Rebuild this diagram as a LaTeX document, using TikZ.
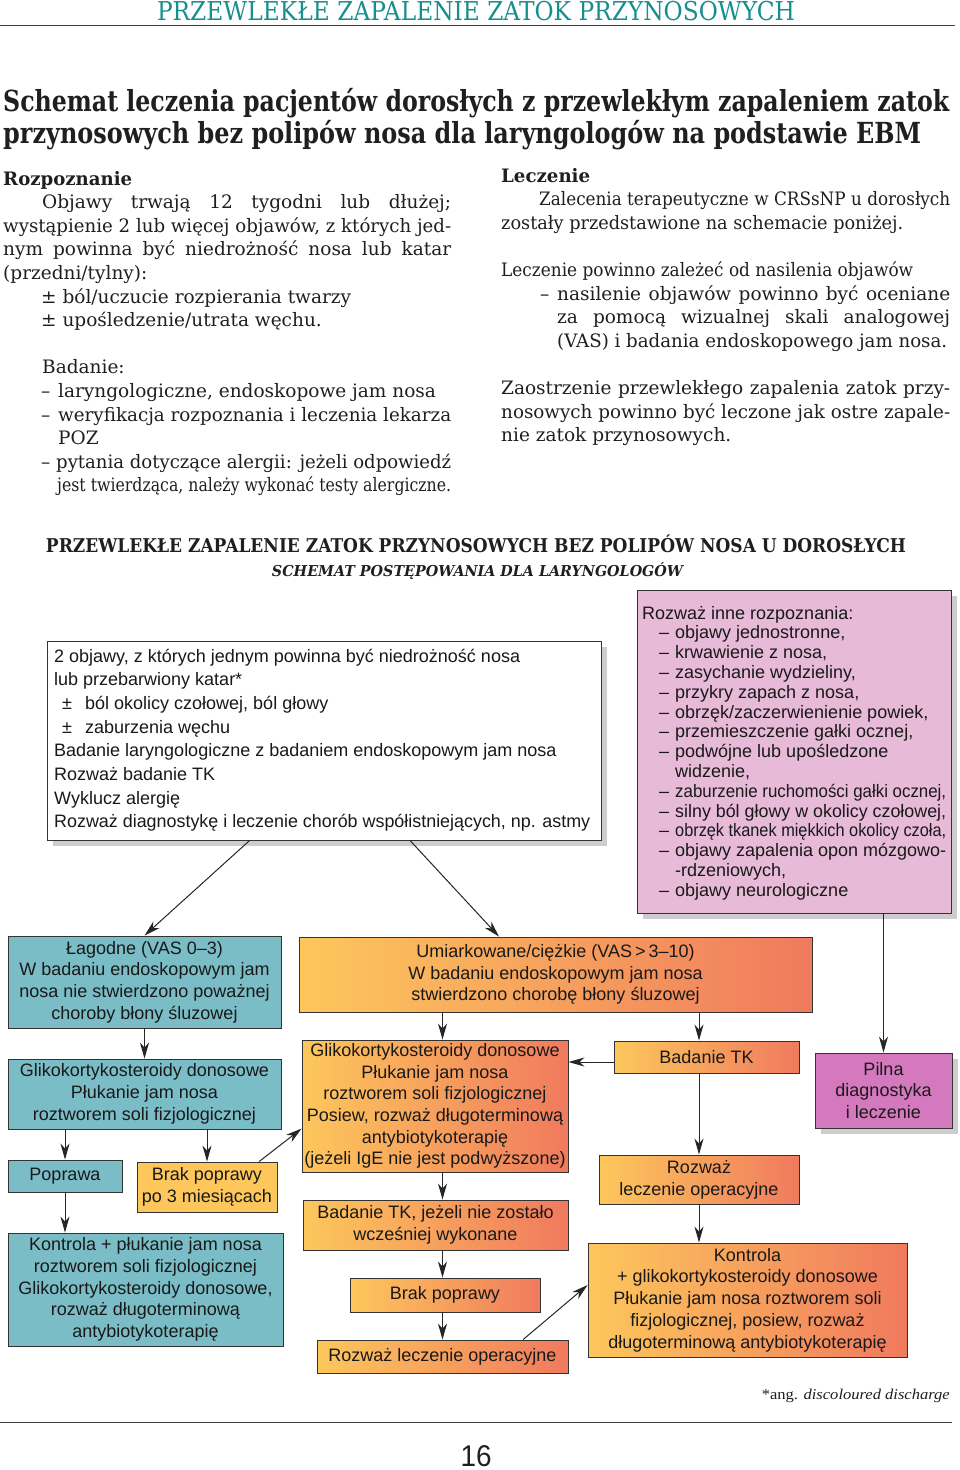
\documentclass[tikz,border=0pt]{standalone}
\usepackage{fontspec}
\usepackage{graphicx}
\setmainfont{DejaVu Serif}
\newfontfamily\chartfont{Liberation Sans}
\newfontfamily\notefont{Liberation Serif}
\usetikzlibrary{arrows.meta,calc,shadows}

\definecolor{headteal}{RGB}{22,143,143}
\definecolor{tealfill}{RGB}{122,189,199}
\definecolor{warmleft}{RGB}{253,199,92}
\definecolor{warmright}{RGB}{240,122,94}
\definecolor{pinkfill}{RGB}{231,186,216}
\definecolor{magentafill}{RGB}{213,121,190}
\definecolor{shadowgray}{RGB}{205,205,205}

% squeeze to a width, keep the height
\newcommand\sqz[2]{\resizebox{#1}{\height}{#2}}
% justified line of a given width
\newcommand\jline[2]{\sbox0{#2}\ifdim\wd0>#1\relax\resizebox{#1}{\height}{#2}\else\makebox[#1][s]{#2}\fi}
% natural line, squeezed only when too long
\newcommand\fitl[2]{\sbox0{#2}\ifdim\wd0>#1\relax\resizebox{#1}{\height}{#2}\else\usebox0\fi}
% stacked lines, baseline of the first one
\newcommand\lines[1]{\vtop{\let\\\cr\halign{##\hfil\cr#1\crcr}}}
\newcommand\dashitem[1]{\hspace*{17pt}\makebox[16pt][l]{–}\fitl{271pt}{#1}}

\tikzset{
  box/.style={draw=black!80, line width=0.9pt, inner sep=0pt, align=center,
    font=\chartfont\fontsize{18}{21.7}\selectfont, text=black!90},
  tealbox/.style={box, fill=tealfill},
  warmbox/.style={box, left color=warmleft, right color=warmright},
  ylwbox/.style={box, fill=warmleft},
  shadowed/.style={drop shadow={shadow xshift=6pt, shadow yshift=-6pt, fill=shadowgray, opacity=1}},
  arrow/.style={-{Stealth[length=16pt,width=9pt,inset=5pt]}, line width=1pt, draw=black!85},
  bodytext/.style={inner sep=0pt, font=\fontsize{18.5}{23.6}\selectfont, text=black!88},
  charttext/.style={inner sep=0pt, text=black!90},
}

\begin{document}
\begin{tikzpicture}[x=1pt, y=-1pt]
    \fill[white] (0,0) rectangle (960,1470);
    \useasboundingbox (0,0) rectangle (960,1470);

    \node[anchor=base, inner sep=0pt, text=headteal, font=\fontsize{26}{28}\selectfont] (pagehead) at (476,20)
        {\sqz{638pt}{PRZEWLEKŁE ZAPALENIE ZATOK PRZYNOSOWYCH}};
    \draw[line width=1pt, black!75] (0,25) -- (955,25);

    \node[anchor=base west, inner sep=0pt, text=black!88, font=\fontsize{29}{32}\selectfont\bfseries] (title) at (3,111)
        {\lines{\sqz{946pt}{Schemat leczenia pacjentów dorosłych z przewlekłym zapaleniem zatok}\\
                \sqz{918pt}{przynosowych bez polipów nosa dla laryngologów na podstawie EBM}}};

    \node[bodytext, anchor=base west] (rozpoznanie) at (3,185) {\lines{%
        \sqz{129pt}{\bfseries Rozpoznanie}\\
        \hspace*{39pt}\jline{409pt}{Objawy trwają 12 tygodni lub dłużej;}\\
        \jline{448pt}{wystąpienie 2 lub więcej objawów, z których jed-}\\
        \jline{448pt}{nym powinna być niedrożność nosa lub katar}\\
        (przedni/tylny):\\
        \hspace*{38pt}± ból/uczucie rozpierania twarzy\\
        \hspace*{38pt}± upośledzenie/utrata węchu.\\
        \\
        \hspace*{39pt}Badanie:\\
        \hspace*{38pt}\makebox[17pt][l]{–}\fitl{393pt}{laryngologiczne, endoskopowe jam nosa}\\
        \hspace*{38pt}\makebox[17pt][l]{–}\jline{393pt}{weryfikacja rozpoznania i leczenia lekarza}\\
        \hspace*{55pt}POZ\\
        \hspace*{38pt}\makebox[15pt][l]{–}\jline{395pt}{pytania dotyczące alergii: jeżeli odpowiedź}\\
        \hspace*{54pt}\jline{394pt}{jest twierdząca, należy wykonać testy alergiczne.}}};

    \node[bodytext, anchor=base west] (leczenie) at (501,182) {\lines{%
        \sqz{89pt}{\bfseries Leczenie}\\
        \hspace*{38pt}\jline{411pt}{Zalecenia terapeutyczne w CRSsNP u dorosłych}\\
        \fitl{402pt}{zostały przedstawione na schemacie poniżej.}\\
        \\
        \fitl{412pt}{Leczenie powinno zależeć od nasilenia objawów}\\
        \hspace*{39pt}\makebox[17pt][l]{–}\jline{393pt}{nasilenie objawów powinno być oceniane}\\
        \hspace*{56pt}\jline{393pt}{za pomocą wizualnej skali analogowej}\\
        \hspace*{56pt}\fitl{390pt}{(VAS) i badania endoskopowego jam nosa.}\\
        \\
        \jline{449pt}{Zaostrzenie przewlekłego zapalenia zatok przy-}\\
        \jline{449pt}{nosowych powinno być leczone jak ostre zapale-}\\
        nie zatok przynosowych.}};

    \node[anchor=base, inner sep=0pt, text=black!88, font=\fontsize{19}{22}\selectfont\bfseries] (charthead) at (476,552)
        {\sqz{860pt}{PRZEWLEKŁE ZAPALENIE ZATOK PRZYNOSOWYCH BEZ POLIPÓW NOSA U DOROSŁYCH}};
    \node[anchor=base, inner sep=0pt, text=black!88, font=\fontsize{15}{18}\selectfont\bfseries\itshape] (chartsub) at (477.5,576)
        {\sqz{411pt}{SCHEMAT POSTĘPOWANIA DLA LARYNGOLOGÓW}};

    \node[box, fill=white, shadowed, minimum width=554, minimum height=199] (diag) at (324,740.5) {};
    \node[charttext, anchor=base west, font=\chartfont\fontsize{18}{23.7}\selectfont] (diagtext) at (54,662) {\lines{%
        2 objawy, z których jednym powinna być niedrożność nosa\\
        lub przebarwiony katar*\\
        \hspace*{8pt}\makebox[23pt][l]{±}ból okolicy czołowej, ból głowy\\
        \hspace*{8pt}\makebox[23pt][l]{±}zaburzenia węchu\\
        Badanie laryngologiczne z badaniem endoskopowym jam nosa\\
        Rozważ badanie TK\\
        Wyklucz alergię\\
        \fitl{536pt}{Rozważ diagnostykę i leczenie chorób współistniejących, np. astmy}}};

    \node[box, fill=pinkfill, shadowed, minimum width=314, minimum height=323] (other) at (794,751.5) {};
    \node[charttext, anchor=base west, font=\chartfont\fontsize{18}{19.8}\selectfont] (othertext) at (642,619) {\lines{%
        Rozważ inne rozpoznania:\\
        \dashitem{objawy jednostronne,}\\
        \dashitem{krwawienie z nosa,}\\
        \dashitem{zasychanie wydzieliny,}\\
        \dashitem{przykry zapach z nosa,}\\
        \dashitem{obrzęk/zaczerwienienie powiek,}\\
        \dashitem{przemieszczenie gałki ocznej,}\\
        \dashitem{podwójne lub upośledzone}\\
        \hspace*{33pt}widzenie,\\
        \dashitem{zaburzenie ruchomości gałki ocznej,}\\
        \dashitem{silny ból głowy w okolicy czołowej,}\\
        \dashitem{obrzęk tkanek miękkich okolicy czoła,}\\
        \dashitem{objawy zapalenia opon mózgowo-}\\
        \hspace*{33pt}-rdzeniowych,\\
        \dashitem{objawy neurologiczne}}};

    \node[tealbox, minimum width=273, minimum height=92] (mild) at (144.5,982)
        {Łagodne (VAS 0–3)\\W badaniu endoskopowym jam\\nosa nie stwierdzono poważnej\\choroby błony śluzowej};
    \node[tealbox, minimum width=273, minimum height=70] (mildtx) at (144.5,1094)
        {Glikokortykosteroidy donosowe\\Płukanie jam nosa\\roztworem soli fizjologicznej};
    \node[tealbox, minimum width=114, minimum height=32] (better) at (65,1176) {Poprawa};
    \node[ylwbox, minimum width=140, minimum height=50] (nobetter) at (207,1187) {Brak poprawy\\po 3 miesiącach};
    \node[tealbox, minimum width=275, minimum height=113] (mildfu) at (145.5,1289.5)
        {Kontrola + płukanie jam nosa\\roztworem soli fizjologicznej\\Glikokortykosteroidy donosowe,\\rozważ długoterminową\\antybiotykoterapię};

    \node[warmbox, minimum width=513, minimum height=75] (severe) at (555.5,974.5)
        {Umiarkowane/ciężkie (VAS\,>\,3–10)\\W badaniu endoskopowym jam nosa\\stwierdzono chorobę błony śluzowej};
    \node[warmbox, minimum width=266, minimum height=132] (sevtx) at (435,1106)
        {Glikokortykosteroidy donosowe\\Płukanie jam nosa\\roztworem soli fizjologicznej\\Posiew, rozważ długoterminową\\antybiotykoterapię\\(jeżeli IgE nie jest podwyższone)};
    \node[warmbox, minimum width=265, minimum height=50] (ctlate) at (435.5,1225)
        {Badanie TK, jeżeli nie zostało\\wcześniej wykonane};
    \node[warmbox, minimum width=190, minimum height=34] (nochange) at (445,1295) {Brak poprawy};
    \node[warmbox, minimum width=251, minimum height=33] (surglate) at (442.5,1356.5) {Rozważ leczenie operacyjne};

    \node[warmbox, minimum width=185, minimum height=32] (ct) at (706.5,1057) {Badanie TK};
    \node[warmbox, minimum width=200, minimum height=49] (surg) at (699,1179.5) {Rozważ\\leczenie operacyjne};
    \node[warmbox, minimum width=319, minimum height=114] (sevfu) at (747.5,1300)
        {Kontrola\\+ glikokortykosteroidy donosowe\\Płukanie jam nosa roztworem soli\\fizjologicznej, posiew, rozważ\\długoterminową antybiotykoterapię};

    \node[box, fill=magentafill, shadowed, minimum width=137, minimum height=75] (urgent) at (883.5,1090.5)
        {Pilna\\diagnostyka\\i leczenie};

    \draw[arrow] ($(diag.south west)!0.366!(diag.south east)$) -- (mild.north);
    \draw[arrow] ($(diag.south west)!0.655!(diag.south east)$) -- ($(severe.north west)!0.39!(severe.north east)$);
    \draw[arrow] (other.south -| urgent.north) -- (urgent.north);

    \draw[arrow] (mild) -- (mildtx);
    \draw[arrow] (mildtx.south -| better.north) -- (better.north);
    \draw[arrow] (mildtx.south -| nobetter.north) -- (nobetter.north);
    \draw[arrow] (better) -- (better.south |- mildfu.north);
    \draw[arrow] ($(nobetter.north west)!0.87!(nobetter.north east)$) -- ($(sevtx.north west)!0.67!(sevtx.south west)$);

    \draw[arrow] (severe.south -| surglate.north) -- (sevtx.north -| surglate.north);
    \draw[arrow] (sevtx.south -| surglate.north) -- (ctlate.north -| surglate.north);
    \draw[arrow] (ctlate.south -| surglate.north) -- (nochange.north -| surglate.north);
    \draw[arrow] (nochange.south -| surglate.north) -- (surglate.north);
    \draw[arrow] ($(surglate.north west)!0.82!(surglate.north east)$) -- ($(sevfu.north west)!0.37!(sevfu.south west)$);

    \coordinate (ctin) at ([yshift=-5pt]ct.west);
    \draw[arrow] (severe.south -| surg.north) -- (ct.north -| surg.north);
    \draw[arrow] (ctin) -- (ctin -| sevtx.east);
    \draw[arrow] (ct.south -| surg.north) -- (surg.north);
    \draw[arrow] (surg) -- (surg.south |- sevfu.north);

    \node[anchor=base east, inner sep=0pt, text=black!88, font=\notefont\fontsize{15}{17}\selectfont] (footnote) at (950,1399)
        {\sqz{188pt}{*ang. \textit{discoloured discharge}}};
    \draw[line width=1pt, black!75] (0,1422) -- (952,1422);
    \node[anchor=base, inner sep=0pt, text=black!88, font=\chartfont\fontsize{30}{32}\selectfont] (pagenum) at (476,1466)
        {\sqz{31pt}{16}};
\end{tikzpicture}
\end{document}
